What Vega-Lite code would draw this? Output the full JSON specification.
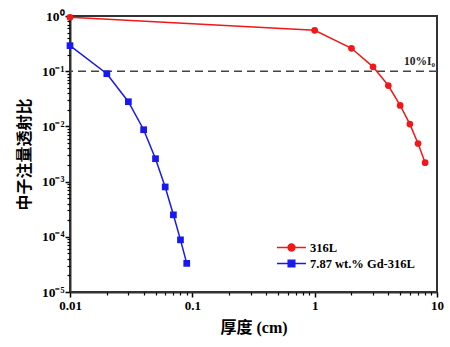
{
  "$schema": "https://vega.github.io/schema/vega-lite/v6.json",
  "width": 367,
  "height": 276,
  "autosize": {"type": "none"},
  "padding": {"left": 70, "top": 16, "right": 13, "bottom": 55},
  "background": "white",
  "config": {
    "view": {"stroke": "#333333", "strokeWidth": 2},
    "font": "Liberation Serif"
  },
  "datasets": {
    "curves": [
      {"series": "316L", "thickness": 0.01, "ratio": 0.95},
      {"series": "316L", "thickness": 1, "ratio": 0.55},
      {"series": "316L", "thickness": 2, "ratio": 0.26},
      {"series": "316L", "thickness": 3, "ratio": 0.12},
      {"series": "316L", "thickness": 4, "ratio": 0.055},
      {"series": "316L", "thickness": 5, "ratio": 0.024},
      {"series": "316L", "thickness": 6, "ratio": 0.011},
      {"series": "316L", "thickness": 7, "ratio": 0.0049},
      {"series": "316L", "thickness": 8, "ratio": 0.0022},
      {"series": "7.87 wt.% Gd-316L", "thickness": 0.01, "ratio": 0.29},
      {"series": "7.87 wt.% Gd-316L", "thickness": 0.02, "ratio": 0.09},
      {"series": "7.87 wt.% Gd-316L", "thickness": 0.03, "ratio": 0.028},
      {"series": "7.87 wt.% Gd-316L", "thickness": 0.04, "ratio": 0.0087},
      {"series": "7.87 wt.% Gd-316L", "thickness": 0.05, "ratio": 0.0026},
      {"series": "7.87 wt.% Gd-316L", "thickness": 0.06, "ratio": 0.0008},
      {"series": "7.87 wt.% Gd-316L", "thickness": 0.07, "ratio": 0.00025},
      {"series": "7.87 wt.% Gd-316L", "thickness": 0.08, "ratio": 0.000088},
      {"series": "7.87 wt.% Gd-316L", "thickness": 0.09, "ratio": 0.000033}
    ],
    "ref": [{"thickness": 10, "ratio": 0.1, "label": "10%I₀"}]
  },
  "data": {"name": "curves"},
  "resolve": {"axis": {"x": "independent", "y": "independent"}},
  "layer": [
    {
      "data": {"name": "ref"},
      "mark": {"type": "rule", "color": "#444444", "strokeWidth": 1.5, "strokeDash": [8, 5]},
      "encoding": {"y": {"field": "ratio", "type": "quantitative", "axis": null}}
    },
    {
      "transform": [{"filter": "datum.series === '316L'"}],
      "mark": {"type": "line", "color": "#f01818", "strokeWidth": 1.5},
      "encoding": {
        "x": {
          "field": "thickness", "type": "quantitative",
          "scale": {"type": "log", "domain": [0.01, 10]},
          "axis": {
            "orient": "bottom", "ticks": true,
            "title": "厚度 (cm)",
            "titleFont": "Liberation Serif, Noto Sans CJK SC",
            "titleFontSize": 16, "titleFontWeight": "bold", "titleColor": "black", "titlePadding": 7,
            "values": [0.01, 0.1, 1, 10],
            "labelExpr": "datum.value < 0.05 ? '0.01' : datum.value < 0.5 ? '0.1' : datum.value < 5 ? '1' : '10'",
            "labelFont": "Liberation Serif", "labelFontSize": 13, "labelFontWeight": "bold", "labelColor": "black",
            "labelPadding": 2, "labelFlush": false, "labelOverlap": false,
            "tickSize": 5, "tickColor": "black", "tickWidth": 1.5,
            "domain": true, "domainColor": "#333333", "domainWidth": 2, "grid": false
          }
        },
        "y": {
          "field": "ratio", "type": "quantitative",
          "scale": {"type": "log", "domain": [0.00001, 1]},
          "axis": {
            "orient": "left", "ticks": true,
            "title": "中子注量透射比",
            "titleFont": "Noto Sans CJK SC",
            "titleFontSize": 16, "titleFontWeight": "bold", "titleColor": "black", "titlePadding": 9,
            "values": [0.00001, 0.0001, 0.001, 0.01, 0.1, 1],
            "labelExpr": "['10⁰','10⁻¹','10⁻²','10⁻³','10⁻⁴','10⁻⁵'][-round(log(datum.value)/LN10)]",
            "labelFont": "Liberation Serif", "labelFontSize": 13.5, "labelFontWeight": "bold", "labelColor": "black",
            "labelPadding": 1, "labelFlush": false, "labelOverlap": false,
            "tickSize": 5, "tickColor": "black", "tickWidth": 1.5,
            "domain": true, "domainColor": "#333333", "domainWidth": 2, "grid": false
          }
        }
      }
    },
    {
      "transform": [{"filter": "datum.series !== '316L'"}],
      "mark": {"type": "line", "color": "#1818f0", "strokeWidth": 1.5},
      "encoding": {
        "x": {
          "field": "thickness", "type": "quantitative",
          "axis": {
            "orient": "bottom", "ticks": true, "title": null, "labels": false, "domain": false, "grid": false,
            "values": [0.02,0.03,0.04,0.05,0.06,0.07,0.08,0.09,0.2,0.3,0.4,0.5,0.6,0.7,0.8,0.9,2,3,4,5,6,7,8,9],
            "tickSize": 3, "tickColor": "black", "tickWidth": 1.2
          }
        },
        "y": {
          "field": "ratio", "type": "quantitative",
          "axis": {
            "orient": "left", "ticks": true, "title": null, "labels": false, "domain": false, "grid": false,
            "values": [0.00002,0.00003,0.00004,0.00005,0.00006,0.00007,0.00008,0.00009,0.0002,0.0003,0.0004,0.0005,0.0006,0.0007,0.0008,0.0009,0.002,0.003,0.004,0.005,0.006,0.007,0.008,0.009,0.02,0.03,0.04,0.05,0.06,0.07,0.08,0.09,0.2,0.3,0.4,0.5,0.6,0.7,0.8,0.9],
            "tickSize": 3, "tickColor": "black", "tickWidth": 1.2
          }
        }
      }
    },
    {
      "transform": [{"filter": "datum.series === '316L'"}],
      "mark": {"type": "point", "shape": "circle", "filled": true, "opacity": 1, "color": "#f01818", "size": 45},
      "encoding": {
        "x": {"field": "thickness", "type": "quantitative", "axis": null},
        "y": {"field": "ratio", "type": "quantitative", "axis": null}
      }
    },
    {
      "transform": [{"filter": "datum.series !== '316L'"}],
      "mark": {"type": "point", "shape": "square", "filled": true, "opacity": 1, "color": "#1818f0", "size": 45},
      "encoding": {
        "x": {"field": "thickness", "type": "quantitative", "axis": null},
        "y": {"field": "ratio", "type": "quantitative", "axis": null}
      }
    },
    {
      "mark": {"type": "point", "filled": true, "opacity": 0},
      "encoding": {
        "x": {"field": "thickness", "type": "quantitative", "axis": null},
        "y": {"field": "ratio", "type": "quantitative", "axis": null},
        "fill": {
          "field": "series", "type": "nominal",
          "scale": {"domain": ["316L", "7.87 wt.% Gd-316L"], "range": ["#f01818", "#1818f0"]},
          "legend": {
            "title": null, "orient": "bottom-right", "offset": 22, "padding": 0,
            "symbolSize": 225, "symbolStrokeWidth": 1.3,
            "labelFont": "Liberation Serif", "labelFontSize": 12.5, "labelFontWeight": "bold", "labelColor": "black",
            "labelOffset": 10, "rowPadding": 1,
            "encode": {
              "symbols": {
                "update": {
                  "fill": {"scale": "fill", "field": "value"},
                  "stroke": {"scale": "fill", "field": "value"},
                  "opacity": {"value": 1},
                  "fillOpacity": {"value": 1},
                  "strokeOpacity": {"value": 1}
                }
              }
            }
          }
        },
        "stroke": {
          "field": "series", "type": "nominal",
          "scale": {"domain": ["316L", "7.87 wt.% Gd-316L"], "range": ["#f01818", "#1818f0"]}
        },
        "shape": {
          "field": "series", "type": "nominal",
          "scale": {"domain": ["316L", "7.87 wt.% Gd-316L"], "range": ["M-1.93,0H1.93M0.47,0A0.47,0.47,0,1,1,-0.47,0A0.47,0.47,0,1,1,0.47,0", "M-1.93,0H1.93M-0.45,-0.45H0.45V0.45H-0.45Z"]}
        }
      }
    },
    {
      "data": {"name": "ref"},
      "mark": {"type": "text", "align": "right", "baseline": "bottom", "dx": -2, "dy": -4, "font": "Liberation Serif", "fontSize": 11.5, "fontWeight": "bold", "color": "#222222"},
      "encoding": {
        "x": {"field": "thickness", "type": "quantitative", "axis": null},
        "y": {"field": "ratio", "type": "quantitative", "axis": null},
        "text": {"field": "label"}
      }
    }
  ]
}
